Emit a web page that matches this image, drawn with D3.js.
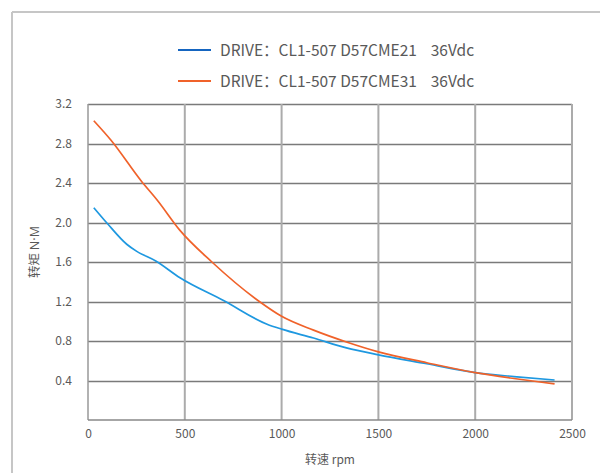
<!DOCTYPE html>
<html><head><meta charset="utf-8">
<script src="https://cdn.jsdelivr.net/npm/d3@7"></script>
<style>html,body{margin:0;padding:0;background:#fff;}svg{display:block;}</style>
</head><body>
<svg id="c" width="600" height="473"></svg>
<script>
const seriesNames = ["DRIVE：CL1-507 D57CME21    36Vdc", "DRIVE：CL1-507 D57CME31    36Vdc"];
const rpmBlue =    [30, 100, 200, 250, 350, 475, 700, 925, 1000, 1165, 1335, 1500, 1750, 2000, 2200, 2410];
const torqueBlue = [2.15, 1.99, 1.78, 1.71, 1.61, 1.44, 1.21, 0.97, 0.92, 0.83, 0.73, 0.66, 0.57, 0.48, 0.44, 0.405];
const rpmOrange =    [30, 120, 275, 360, 475, 640, 885, 1000, 1165, 1335, 1500, 1750, 2000, 2200, 2410];
const torqueOrange = [3.03, 2.83, 2.42, 2.22, 1.92, 1.60, 1.20, 1.05, 0.91, 0.79, 0.69, 0.58, 0.48, 0.42, 0.365];
const xTicks = [0, 500, 1000, 1500, 2000, 2500];
const yTicks = [0.4, 0.8, 1.2, 1.6, 2.0, 2.4, 2.8, 3.2];
const xTitle = "转速 rpm";
const yTitleCJK = "转矩 ";
const yTitleUnit = "N·M";

const svg = d3.select("#c");
const font = "'Noto Sans CJK SC','Noto Sans',sans-serif";
const latin = "'Noto Sans','Noto Sans CJK SC',sans-serif";
const L = 88, R = 572, T = 104, B = 420;
const x = d3.scaleLinear().domain([0, 2500]).range([L, R]);
const y = d3.scaleLinear().domain([0, 3.2]).range([B, T]);

// outer frame lines
svg.append("line").attr("x1", 12).attr("x2", 600).attr("y1", 12).attr("y2", 12).attr("stroke", "#c6c6c6").attr("stroke-width", 2);
svg.append("line").attr("x1", 12).attr("x2", 12).attr("y1", 12).attr("y2", 473).attr("stroke", "#c6c6c6").attr("stroke-width", 2);

// horizontal grid
svg.append("g").selectAll("line").data(yTicks).join("line")
  .attr("x1", L).attr("x2", R).attr("y1", d => Math.round(y(d)) + 0.5).attr("y2", d => Math.round(y(d)) + 0.5)
  .attr("stroke", "#7a7a7a").attr("stroke-width", 1.4);
// vertical grid
svg.append("g").selectAll("line").data(xTicks.slice(1)).join("line")
  .attr("x1", d => x(d)).attr("x2", d => x(d)).attr("y1", T).attr("y2", B)
  .attr("stroke", "#ababab").attr("stroke-width", 2);
// left + bottom axis lines
svg.append("line").attr("x1", L).attr("x2", L).attr("y1", T).attr("y2", B).attr("stroke", "#999").attr("stroke-width", 1.5);
svg.append("line").attr("x1", L).attr("x2", R).attr("y1", B).attr("y2", B).attr("stroke", "#888").attr("stroke-width", 1.5);

// axes labels via d3 axes
const xAxis = svg.append("g").attr("transform", `translate(0,${B})`)
  .call(d3.axisBottom(x).tickValues(xTicks).tickSize(0).tickPadding(9).tickFormat(d3.format("d")));
const yAxis = svg.append("g").attr("transform", `translate(${L},0)`)
  .call(d3.axisLeft(y).tickValues(yTicks).tickSize(0).tickPadding(14).tickFormat(d3.format(".1f")));
[xAxis, yAxis].forEach(a => {
  a.select(".domain").remove();
  a.selectAll("text").attr("font-family", font).attr("font-size", 12).attr("fill", "#595959");
});
yAxis.selectAll("text").attr("x", -16);

svg.append("text").attr("x", (L + R) / 2).attr("y", 464).attr("text-anchor", "middle")
  .attr("font-family", font).attr("font-size", 12).attr("fill", "#595959").text(xTitle);
const yt = svg.append("text").attr("transform", `translate(38.5,252) rotate(-90)`).attr("text-anchor", "middle")
  .attr("font-family", font).attr("font-size", 12.5).attr("fill", "#595959").attr("xml:space", "preserve");
yt.append("tspan").text(yTitleCJK);
yt.append("tspan").attr("font-family", latin).text(yTitleUnit);

// lines
const line = d3.line().x(d => x(d[0])).y(d => y(d[1])).curve(d3.curveMonotoneX);
const blue = rpmBlue.map((r, i) => [r, torqueBlue[i]]);
const orange = rpmOrange.map((r, i) => [r, torqueOrange[i]]);
svg.append("path").datum(blue).attr("d", line).attr("fill", "none").attr("stroke", "#1e98e0").attr("stroke-width", 1.7);
svg.append("path").datum(orange).attr("d", line).attr("fill", "none").attr("stroke", "#f0622a").attr("stroke-width", 1.7);

// legend
const legColors = ["#1565c0", "#f0622a"];
const lg = svg.append("g");
seriesNames.forEach((n, i) => {
  const yy = 50 + i * 31;
  lg.append("line").attr("x1", 178).attr("x2", 211).attr("y1", yy).attr("y2", yy).attr("stroke", legColors[i]).attr("stroke-width", 2);
  lg.append("text").attr("x", 220).attr("y", yy + 5.5).attr("font-family", font).attr("font-size", 15.5)
    .attr("fill", "#595959").attr("xml:space", "preserve").style("white-space", "pre").text(n);
});
</script>
</body></html>
